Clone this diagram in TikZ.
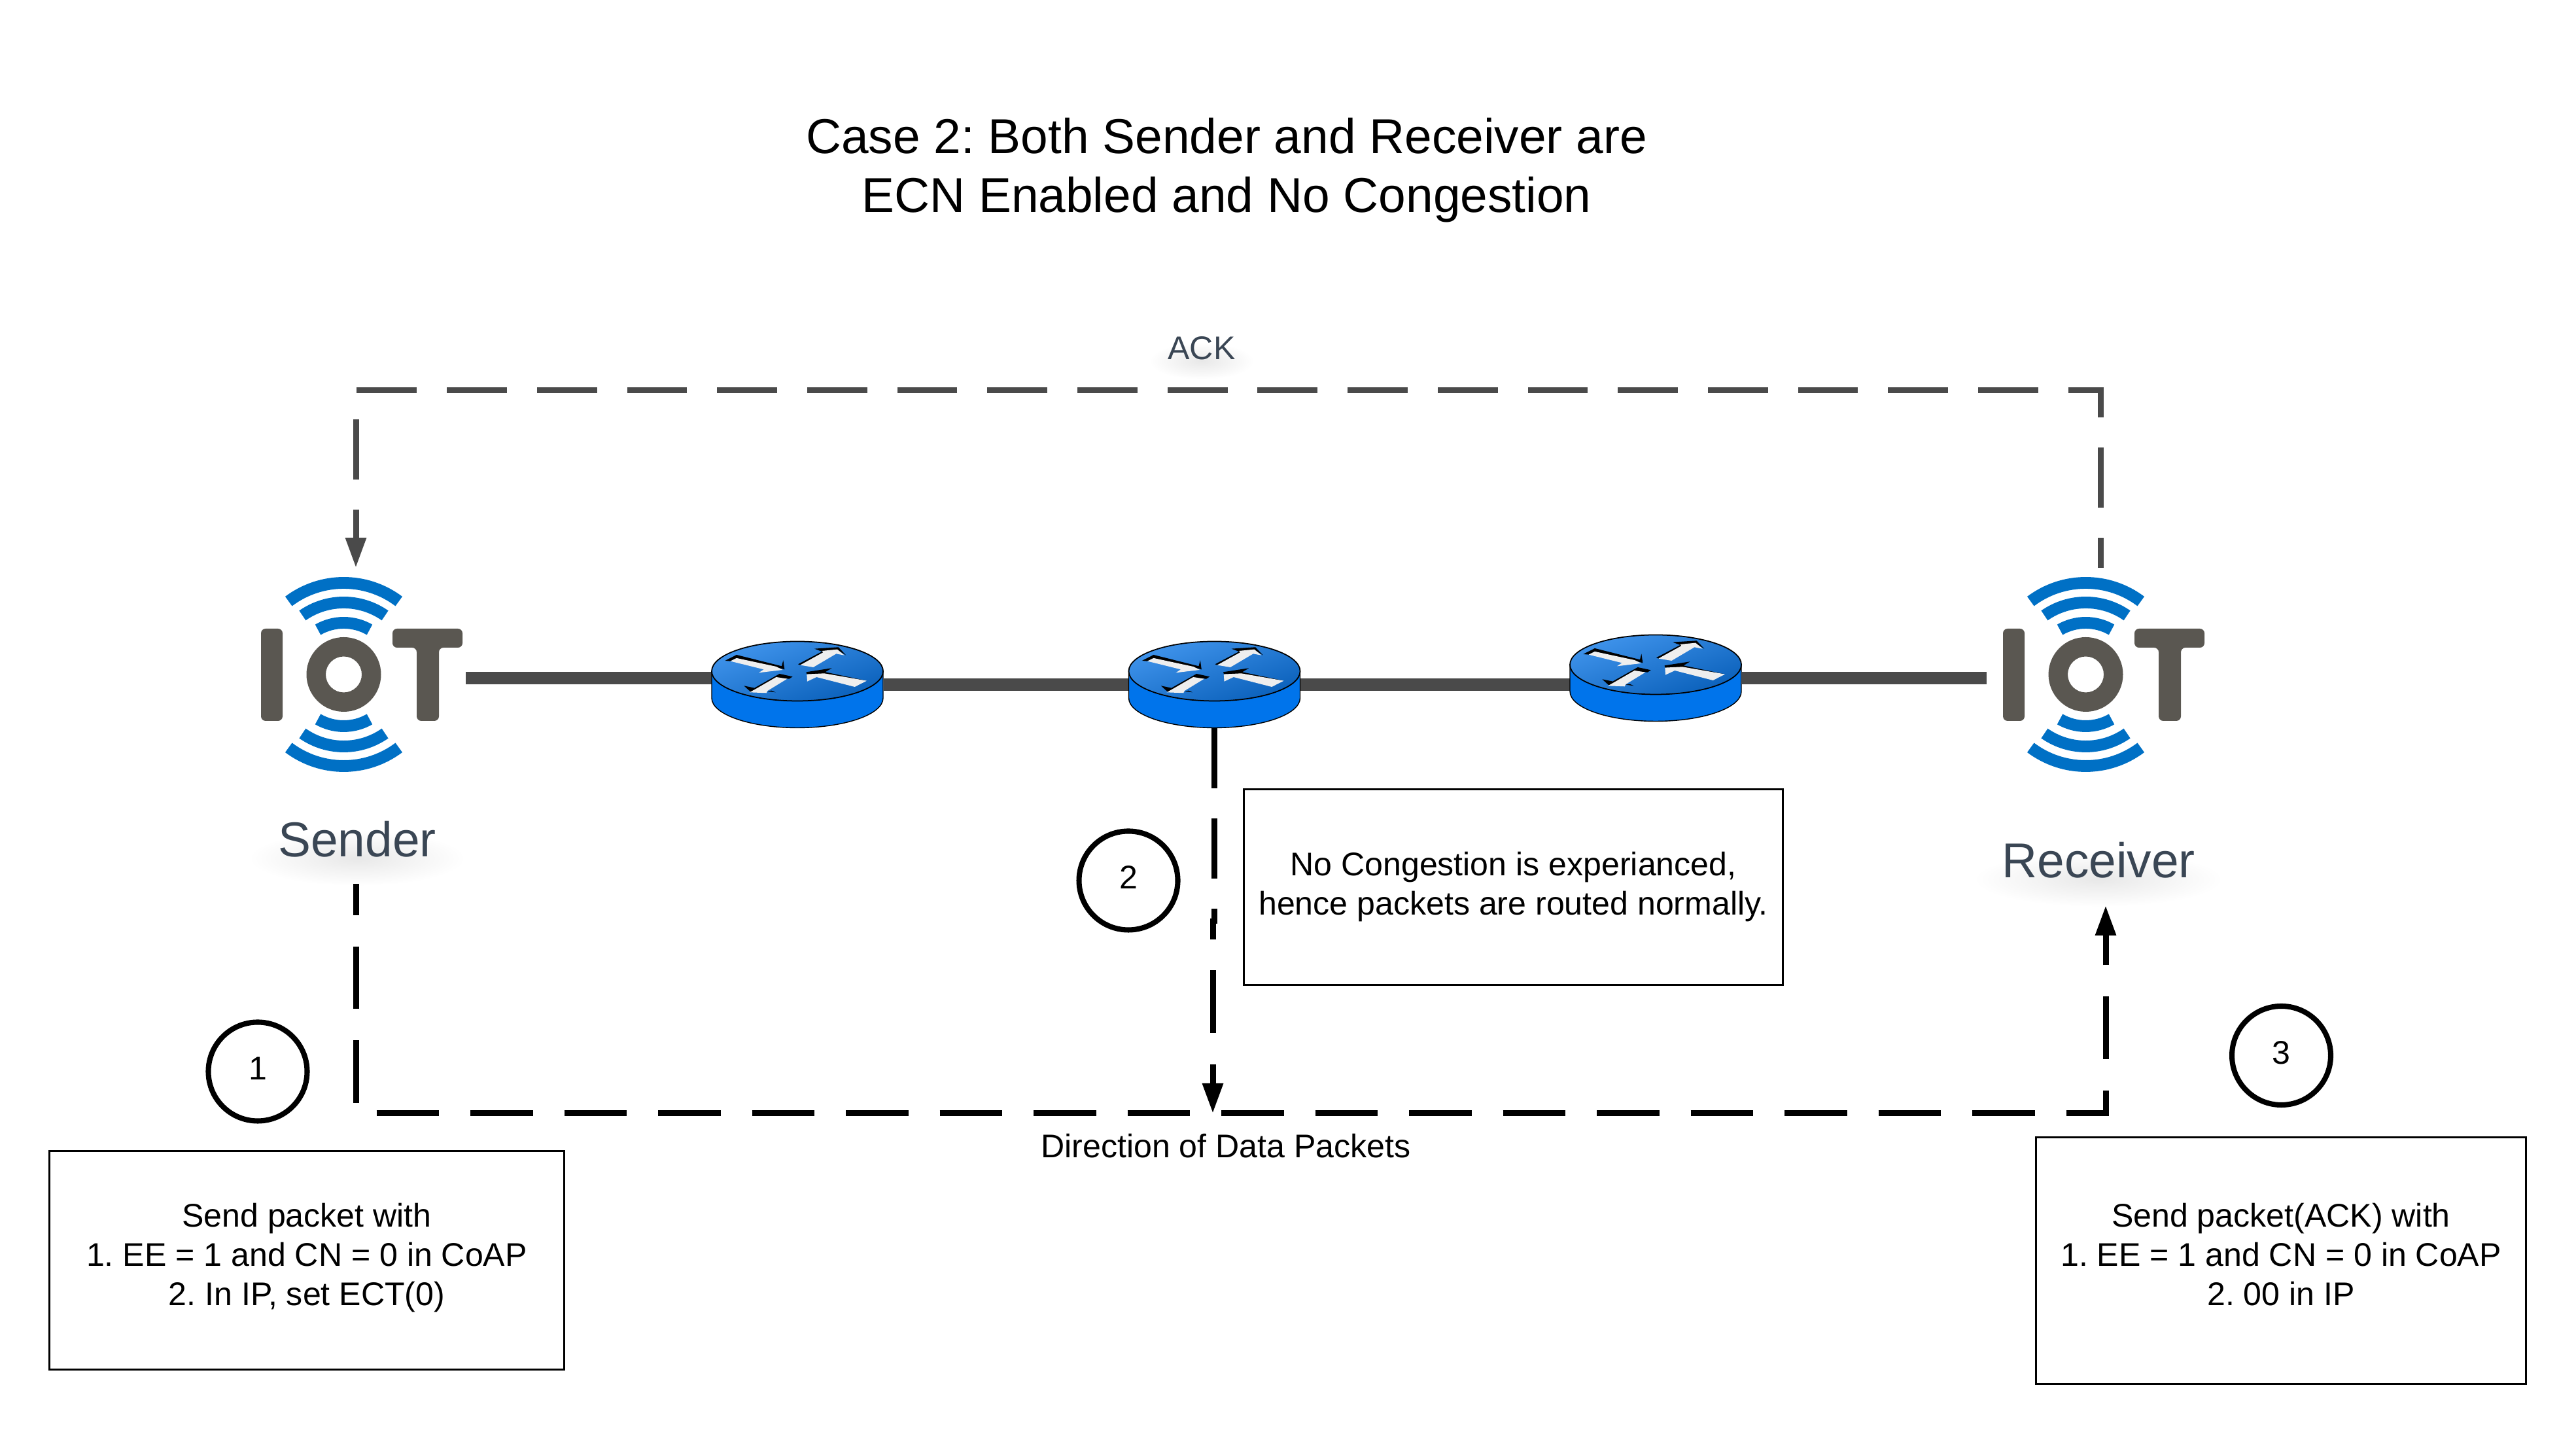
\documentclass[tikz,border=0pt]{standalone}
\usepackage{fontspec}
\setmainfont{Liberation Sans}
\usetikzlibrary{arrows.meta,shapes.geometric}
\frenchspacing

\definecolor{linkgray}{HTML}{4A4A4A}
\definecolor{logogray}{HTML}{5A5751}
\definecolor{logoblue}{HTML}{0070C5}
\definecolor{labelgray}{HTML}{3A4654}
\definecolor{routerside}{HTML}{0074EB}
\definecolor{routerlight}{HTML}{4094EC}
\definecolor{routerdark}{HTML}{0A60BA}
\definecolor{arrowwhite}{HTML}{EEEEEE}

\tikzset{
	link/.style={line width=5.4pt, linkgray},
	ackline/.style={line width=2.56pt, linkgray, dash pattern=on 0.918cm off 0.459cm, dash phase=0.459cm, -{Triangle[length=4.6mm,width=3mm]}},
	dataline/.style={line width=2.56pt, black, dash pattern=on 0.957cm off 0.478cm, dash phase=0.478cm, -{Triangle[length=4.6mm,width=3mm]}},
	dropline/.style={line width=2.56pt, black, dash pattern=on 0.92cm off 0.46cm},
	notebox/.style={draw, line width=0.85pt, align=center, inner sep=0pt, font=\fontsize{14.25}{17.07}\selectfont},
	stepmark/.style={draw, circle, line width=2.3pt, inner sep=0pt, minimum size=1.51cm, text height=0.356cm, text depth=0.1cm, font=\fontsize{14.25}{17.07}\selectfont},
	rtbox/.style={minimum width=2.62cm, minimum height=1.31cm, inner sep=0pt},
	hostlabel/.style={anchor=base, labelgray, font=\fontsize{21.3}{25}\selectfont},
	labelhaze/.style={inner color=black!9, outer color=white},
	iotlogo/.pic={
		\fill[logogray, rounded corners=0.07cm] (-1.265, 0.70) rectangle (-0.935, -0.71);
		\fill[logogray, even odd rule] (0, 0) circle (0.57) (0, 0) circle (0.275);
		\fill[logogray, rounded corners=0.07cm] (0.745, 0.70) -- (1.815, 0.70) -- (1.815, 0.41) -- (1.455, 0.41) -- (1.455, -0.71) -- (1.115, -0.71) -- (1.115, 0.41) -- (0.745, 0.41) -- cycle;
		\foreach \r/\a in {1.40/37, 1.10/35, 0.79/30} {
			\draw[logoblue, line width=5.1pt] (90-\a:\r) arc (90-\a:90+\a:\r);
			\draw[logoblue, line width=5.1pt] (270-\a:\r) arc (270-\a:270+\a:\r);
		}
	},
	router/.pic={
		\filldraw[draw=black, fill=routerside, line width=0.4pt] (-1.31, 0.205) -- (-1.31, -0.205) arc (180:360:1.31 and 0.455) -- (1.31, 0.205) -- cycle;
		\shade[left color=routerlight, right color=routerdark, shading angle=20, draw=black, line width=0.5pt] (0, 0.205) ellipse (1.31 and 0.455);
		\begin{scope}[shift={(-1.79,1.065)}, x=1cm/300, y=-1cm/300]
			\fill[black] (205,210) -- (258,183) -- (465,235) -- (472,208) -- (478,250) -- (440,240) -- (258,198) -- (230,212) -- cycle;
			\fill[arrowwhite] (230,212) -- (258,198) -- (440,237) -- (470,252) -- (360,265) -- (383,250) -- cycle;
			\fill[black] (515,283) -- (455,270) -- (340,335) -- (292,325) -- (325,355) -- (350,345) -- (445,290) -- (500,293) -- cycle;
			\fill[arrowwhite] (490,293) -- (440,285) -- (345,340) -- (318,355) -- (395,358) -- (400,348) -- cycle;
			\fill[black] (400,350) -- (418,347) -- (437,355) -- cycle;
			\fill[black] (540,226) -- (650,168) -- (615,155) -- (725,148) -- (760,185) -- (720,160) -- (655,172) -- (550,230) -- cycle;
			\fill[arrowwhite] (550,230) -- (655,172) -- (650,165) -- (720,158) -- (752,185) -- (715,178) -- (610,240) -- cycle;
			\fill[black] (578,262) -- (695,244) -- (665,262) -- (855,302) -- (660,272) -- (580,272) -- cycle;
			\fill[arrowwhite] (580,272) -- (660,268) -- (855,302) -- (800,330) -- (625,285) -- (582,305) -- cycle;
		\end{scope}
	},
}

\begin{document}
\begin{tikzpicture}
	\useasboundingbox (0, 0) rectangle (39.38, 21.92);

	\node[align=center, font=\fontsize{21.3}{25.6}\selectfont] (title) at (18.75, 19.32) {Case 2: Both Sender and Receiver are\\ECN Enabled and No Congestion};

	\node[rtbox] (rt1) at (12.19, 11.455) {};
	\node[rtbox] (rt2) at (18.565, 11.455) {};
	\node[rtbox] (rt3) at (25.31, 11.555) {};
	\coordinate (sendout) at (7.12, 11.555);
	\coordinate (recvin) at (30.37, 11.555);

	\draw[link] (sendout) -- (sendout -| rt1);
	\draw[link] (rt1) -- (rt2);
	\draw[link] (rt2) -- (rt2 -| rt3);
	\draw[link] (rt3) -- (recvin);

	\pic at (rt1) {router};
	\pic at (rt2) {router};
	\pic at (rt3) {router};
	\pic at (5.255, 11.61) {iotlogo};
	\pic at (31.885, 11.61) {iotlogo};

	\shade[labelhaze] (5.46, 8.80) ellipse (1.65 and 0.42);
	\shade[labelhaze] (32.08, 8.48) ellipse (1.90 and 0.42);
	\shade[labelhaze] (18.37, 16.40) ellipse (0.80 and 0.28);
	\node[hostlabel] (sender) at (5.46, 8.82) {Sender};
	\node[hostlabel] (receiver) at (32.08, 8.50) {Receiver};

	% ack goes back over the top
	\coordinate (ackout) at (32.115, 13.24);
	\coordinate (ackbar) at (5.44, 15.955);
	\coordinate (ackin) at (5.44, 13.24);
	\draw[ackline] (ackout) |- (ackbar) -- (ackin);
	\node[anchor=base, labelgray, font=\fontsize{14.25}{17}\selectfont] (acklabel) at (18.37, 16.42) {ACK};

	% data packets along the bottom
	\coordinate (dataout) at (5.44, 8.41);
	\coordinate (datacorner) at (5.44, 4.90);
	\coordinate (datain) at (32.19, 8.08);
	\draw[dataline] (dataout) -- (datacorner) -| (datain);
	\node[anchor=base, font=\fontsize{14.25}{17}\selectfont] (datalabel) at (18.74, 4.225) {Direction of Data Packets};

	\coordinate (dropa) at (18.565, 7.80);
	\coordinate (dropb) at (18.54, 7.88);
	\coordinate (droptip) at (18.54, 4.90);
	\draw[dropline] (rt2.south) -- (dropa);
	\draw[dataline, dash phase=0.64cm] (dropb) -- (droptip);

	\node[stepmark] (stepa) at (3.94, 5.54) {1};
	\node[stepmark] (stepb) at (17.25, 8.46) {2};
	\node[stepmark] (stepc) at (34.875, 5.785) {3};

	\node[notebox, minimum width=7.87cm, minimum height=3.34cm] (notea) at (4.69, 2.655) {Send packet with\\1. EE = 1 and CN = 0 in CoAP\\2. In IP, set ECT(0)\par\vspace{0.08cm}};
	\node[notebox, minimum width=8.24cm, minimum height=2.99cm] (noteb) at (23.135, 8.36) {No Congestion is experianced,\\hence packets are routed normally.};
	\node[notebox, minimum width=7.49cm, minimum height=3.77cm] (notec) at (34.87, 2.65) {Send packet(ACK) with\\1. EE = 1 and CN = 0 in CoAP\\2. 00 in IP\par\vspace{0.18cm}};
\end{tikzpicture}
\end{document}
